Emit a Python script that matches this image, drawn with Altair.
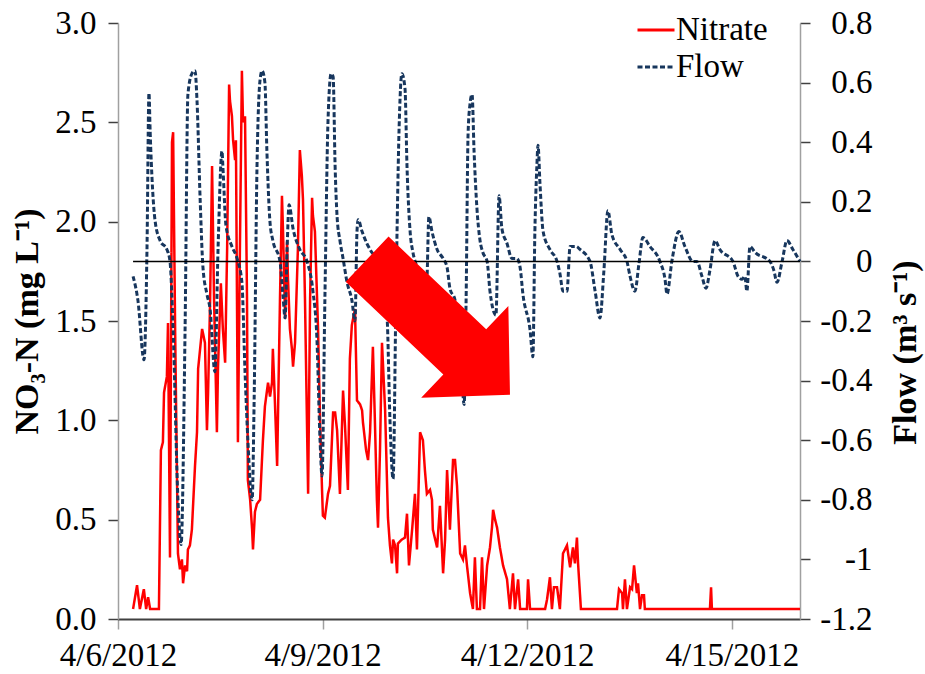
import altair as alt
import pandas as pd

# ---------------- data ----------------
nitrate_hours = [
    5.3, 6.7, 7.7, 9.1, 9.9, 10.6, 11.3, 14.4, 15.1, 15.8,
    16.2, 17.2, 17.6, 18.3, 19.0, 19.4, 20.1, 21.1, 21.8, 22.5,
    22.9, 23.6, 24.3, 24.6, 25.3, 26.0, 27.1, 27.8, 28.2, 28.9,
    29.6, 30.6, 31.3, 31.7, 32.4, 33.1, 33.8, 34.8, 35.2, 36.2,
    36.9, 37.7, 38.4, 39.1, 39.4, 40.1, 40.5, 41.2, 41.5, 42.2,
    42.9, 43.6, 44.0, 44.7, 45.4, 45.7, 46.5, 47.2, 47.5, 48.2,
    48.9, 50.0, 51.0, 51.7, 52.8, 53.5, 54.2, 54.5, 55.2, 56.0,
    57.0, 57.7, 58.1, 58.8, 59.5, 59.8, 60.5, 61.2, 61.6, 62.3,
    63.3, 64.0, 64.7, 65.1, 65.8, 66.9, 67.6, 68.3, 68.6, 69.3,
    70.4, 71.1, 71.8, 72.1, 72.8, 73.9, 74.6, 75.7, 76.4, 77.1,
    78.1, 79.2, 79.9, 80.9, 81.6, 82.3, 83.4, 84.1, 85.2, 85.9,
    86.2, 87.3, 88.0, 88.7, 89.7, 90.4, 91.1, 91.5, 92.2, 92.9,
    94.0, 95.0, 95.7, 96.4, 96.8, 97.5, 98.2, 98.5, 99.9, 101.0,
    101.7, 102.4, 103.5, 104.5, 105.2, 106.3, 107.3, 108.0, 108.7, 109.8,
    110.5, 110.8, 112.3, 113.3, 114.4, 115.1, 115.8, 116.8, 117.9, 118.6,
    119.3, 120.4, 121.4, 122.1, 122.8, 123.9, 124.9, 125.6, 126.3, 127.4,
    128.1, 128.8, 129.9, 130.9, 131.6, 132.0, 132.7, 133.4, 134.4, 135.5,
    136.9, 137.9, 139.0, 139.7, 140.8, 141.5, 143.9, 144.3, 145.0, 150.3,
    151.0, 152.0, 152.7, 153.4, 154.5, 155.5, 156.6, 158.0, 159.1, 160.1,
    160.8, 161.5, 161.9, 162.9, 175.6, 176.3, 177.4, 177.7, 178.4, 179.1,
    180.2, 180.9, 181.6, 182.6, 183.0, 183.7, 184.4, 185.1, 185.4, 208.3,
    208.7, 209.0, 240.0,
]
nitrate_values = [
    0.05, 0.17, 0.05, 0.15, 0.05, 0.11, 0.05, 0.05, 0.85, 0.89,
    1.14, 1.22, 1.49, 0.31, 2.40, 2.45, 1.46, 0.33, 0.25, 0.30,
    0.18, 0.27, 0.24, 0.35, 0.37, 0.45, 0.77, 0.94, 1.26, 1.36,
    1.46, 1.39, 0.95, 1.14, 1.59, 2.28, 1.61, 0.94, 1.27, 1.69,
    1.46, 1.29, 1.86, 2.69, 2.61, 2.53, 2.41, 2.31, 2.41, 0.89,
    1.86, 2.76, 2.50, 2.53, 1.61, 0.70, 0.60, 0.45, 0.35, 0.54,
    0.58, 0.60, 0.90, 1.07, 1.19, 1.12, 1.19, 1.36, 1.10, 0.77,
    1.61, 2.13, 1.94, 1.51, 1.90, 1.72, 1.46, 1.36, 1.27, 1.39,
    1.86, 2.36, 2.23, 2.11, 1.61, 0.63, 1.61, 2.12, 2.03, 1.95,
    1.46, 1.00, 0.65, 0.52, 0.51, 0.63, 0.67, 1.04, 1.04, 0.95,
    0.63, 1.15, 0.97, 0.65, 1.31, 1.48, 1.56, 1.10, 1.08, 1.05,
    0.99, 0.85, 0.80, 0.94, 1.37, 1.00, 0.60, 0.46, 0.85, 1.39,
    1.05, 0.51, 0.37, 0.28, 0.40, 0.37, 0.23, 0.38, 0.40, 0.41,
    0.53, 0.27, 0.45, 0.63, 0.35, 0.94, 0.90, 0.75, 0.63, 0.65,
    0.60, 0.45, 0.36, 0.57, 0.23, 0.40, 0.75, 0.45, 0.80, 0.80,
    0.67, 0.33, 0.30, 0.37, 0.27, 0.13, 0.05, 0.31, 0.05, 0.05,
    0.31, 0.05, 0.27, 0.36, 0.46, 0.55, 0.50, 0.46, 0.36, 0.27,
    0.20, 0.05, 0.23, 0.05, 0.20, 0.05, 0.05, 0.20, 0.05, 0.05,
    0.10, 0.21, 0.05, 0.16, 0.16, 0.05, 0.33, 0.37, 0.26, 0.36,
    0.28, 0.41, 0.28, 0.05, 0.05, 0.15, 0.13, 0.05, 0.20, 0.05,
    0.16, 0.15, 0.27, 0.13, 0.18, 0.05, 0.12, 0.12, 0.05, 0.05,
    0.16, 0.05, 0.05,
]

flow_hours = [
    5.3, 7.0, 9.15, 10.2, 10.9, 11.3, 13.0, 14.8, 17.2, 18.3,
    19.4, 21.1, 22.2, 23.6, 24.6, 26.0, 27.1, 27.8, 28.9, 29.9,
    31.3, 32.4, 34.1, 35.2, 36.6, 36.9, 38.0, 40.1, 41.9, 43.6,
    44.7, 45.7, 47.2, 47.9, 48.9, 50.0, 50.7, 51.7, 52.4, 53.5,
    54.5, 57.0, 58.1, 58.8, 59.5, 60.2, 61.6, 64.0, 66.5, 68.6,
    70.0, 71.1, 71.8, 72.8, 73.9, 75.0, 75.7, 76.4, 77.1, 78.1,
    79.2, 80.6, 82.3, 83.4, 84.1, 84.5, 85.9, 87.6, 88.7, 92.2,
    94.7, 95.7, 96.8, 97.8, 98.9, 99.9, 101.0, 101.7, 102.8, 103.8,
    105.2, 106.6, 108.0, 108.7, 109.4, 110.5, 112.3, 114.4, 115.8, 116.8,
    118.6, 120.4, 121.8, 122.5, 123.2, 123.9, 124.6, 125.3, 126.3, 127.4,
    128.4, 129.9, 130.9, 133.0, 134.1, 135.1, 136.9, 138.6, 140.4, 141.5,
    142.5, 145.0, 146.0, 146.7, 147.4, 147.8, 148.5, 149.6, 152.0, 154.5,
    155.5, 156.6, 158.0, 159.1, 161.2, 162.6, 166.1, 167.9, 169.6, 171.0,
    172.4, 173.8, 176.7, 179.1, 180.2, 181.9, 183.3, 184.7, 187.2, 190.7,
    192.5, 193.2, 194.9, 197.4, 199.5, 202.3, 203.7, 205.5, 206.9, 208.3,
    210.1, 211.8, 216.4, 218.2, 219.6, 220.6, 221.3, 222.4, 224.2, 229.4,
    230.8, 231.9, 233.7, 235.4, 237.5, 240.0,
]
flow_values = [
    -0.05, -0.13, -0.33, 0.04, 0.565, 0.44, 0.14, 0.07, 0.04, 0.0,
    -0.23, -0.80, -0.95, -0.23, 0.56, 0.63, 0.64, 0.54, 0.21, -0.02,
    -0.11, -0.16, -0.37, 0.04, 0.37, 0.32, 0.12, 0.05, 0.01, -0.07,
    -0.37, -0.60, -0.80, -0.47, 0.31, 0.61, 0.64, 0.60, 0.37, 0.13,
    0.07, 0.0, -0.12, -0.19, 0.04, 0.19, 0.11, 0.04, 0.0, -0.10,
    -0.26, -0.60, -0.72, -0.13, 0.47, 0.63, 0.62, 0.32, 0.15, 0.07,
    0.01, -0.07, -0.13, -0.20, 0.10, 0.14, 0.10, 0.06, 0.04, -0.02,
    -0.19, -0.53, -0.73, -0.13, 0.44, 0.63, 0.58, 0.32, 0.10, 0.03,
    -0.02, -0.08, -0.13, -0.07, 0.15, 0.10, 0.04, 0.01, -0.02, -0.09,
    -0.13, -0.26, -0.48, -0.13, 0.43, 0.53, 0.56, 0.37, 0.18, 0.07,
    0.03, 0.0, -0.10, -0.18, 0.22, 0.11, 0.06, 0.01, 0.01, -0.02,
    -0.11, -0.23, -0.32, 0.10, 0.32, 0.39, 0.26, 0.10, 0.04, 0.0,
    -0.04, -0.10, -0.10, 0.05, 0.05, 0.04, 0.0, -0.10, -0.19, -0.03,
    0.17, 0.09, 0.04, 0.0, -0.05, -0.10, -0.01, 0.08, 0.05, 0.0,
    -0.06, -0.11, 0.0, 0.10, 0.05, 0.0, 0.0, -0.05, -0.09, -0.03,
    0.07, 0.04, 0.0, -0.05, -0.06, -0.05, -0.10, 0.05, 0.03, 0.0,
    -0.03, -0.07, 0.0, 0.07, 0.04, 0.0,
]

zero_line_hours = [5.3, 240.0]          # black reference line at Flow = 0
arrow_hour = [112.8]                    # centre of the red arrow annotation
arrow_flow = [-0.22]

series_names = ["Nitrate", "Flow"]
series_colors = ["#ff0000", "#17365d"]
nitrate_ticks = [0.0, 0.5, 1.0, 1.5, 2.0, 2.5, 3.0]
flow_ticks = [-1.2, -1.0, -0.8, -0.6, -0.4, -0.2, 0.0, 0.2, 0.4, 0.6, 0.8]
date_ticks = [6, 9, 12, 15]

assert len(nitrate_hours) == len(nitrate_values)
assert len(flow_hours) == len(flow_values)

# ---------------- build tables ----------------
start = pd.Timestamp("2012-04-06 00:00:00")


def stamps(hours):
    return [(start + pd.Timedelta(hours=h)).strftime("%Y-%m-%dT%H:%M:%S") for h in hours]


nit_df = pd.DataFrame({"time": stamps(nitrate_hours), "value": nitrate_values, "series": "Nitrate"})
flow_df = pd.DataFrame({"time": stamps(flow_hours), "value": flow_values, "series": "Flow"})
zero_df = pd.DataFrame({"time": stamps(zero_line_hours[:1]), "time2": stamps(zero_line_hours[1:]), "value": [0.0]})
arrow_df = pd.DataFrame({"time": stamps(arrow_hour), "value": arrow_flow})

FONT = "Liberation Serif"

x_enc = alt.X(
    "time:T",
    title=None,
    scale=alt.Scale(domain=[alt.DateTime(year=2012, month=4, date=6),
                            alt.DateTime(year=2012, month=4, date=16)]),
    axis=alt.Axis(
        values=[alt.DateTime(year=2012, month=4, date=d) for d in date_ticks],
        format="%-m/%-d/%Y", formatType="time",
        labelFont=FONT, labelFontSize=33, labelColor="black",
        labelPadding=10, labelFlush=False, labelOverlap=False, labelBound=False,
        tickSize=10, tickColor="#a0a0a0", tickWidth=1.5,
        domainColor="#404040", domainWidth=2, grid=False,
    ),
)

nit_scale = alt.Scale(domain=[0, 3.0], nice=False, zero=False)
nit_axis = alt.Axis(
    title="NO₃-N (mg L⁻¹)", orient="left", values=nitrate_ticks, format=".1f",
    labelFont=FONT, labelFontSize=33, labelColor="black", labelPadding=12,
    tickSize=10, tickColor="#404040", tickWidth=1.5,
    domainColor="#a0a0a0", domainWidth=1.5, grid=False,
    titleFont=FONT, titleFontSize=34, titleFontWeight="bold", titleColor="black",
    titleX=-91, titleY=298, titleAngle=270, titleBaseline="middle", titleAlign="center",
)

flow_scale = alt.Scale(domain=[-1.2, 0.8], nice=False, zero=False)
flow_axis = alt.Axis(
    title="Flow (m³ s⁻¹)", orient="right", values=flow_ticks,
    labelExpr="'' + datum.value",
    labelFont=FONT, labelFontSize=33, labelColor="black",
    labelAlign="right", labelPadding=62,
    tickSize=10, tickColor="#404040", tickWidth=1.5,
    domainColor="#a0a0a0", domainWidth=1.5, grid=False,
    titleFont=FONT, titleFontSize=34, titleFontWeight="bold", titleColor="black",
    titleX=105, titleY=329, titleAngle=270, titleBaseline="middle", titleAlign="center",
)

legend = alt.Legend(
    title=None, orient="none", legendX=518, legendY=-13, padding=0,
    symbolType="stroke", symbolSize=1369, symbolStrokeWidth=2.8,
    labelFont=FONT, labelFontSize=33, labelColor="black", labelOffset=0,
    rowPadding=-2,
)
color_enc = alt.Color("series:N", scale=alt.Scale(domain=series_names, range=series_colors), legend=legend)
dash_enc = alt.StrokeDash("series:N", scale=alt.Scale(domain=series_names, range=[[1, 0], [5, 2.5]]), legend=legend)

nit_line = alt.Chart(nit_df).mark_line(strokeWidth=2.5).encode(
    x=x_enc,
    y=alt.Y("value:Q", scale=nit_scale, axis=nit_axis),
    color=color_enc,
    strokeDash=dash_enc,
)

flow_y = alt.Y("value:Q", scale=flow_scale, axis=flow_axis)

flow_line = alt.Chart(flow_df).mark_line(strokeWidth=3, interpolate="monotone").encode(
    x=x_enc, y=flow_y, color=color_enc, strokeDash=dash_enc,
)

zero_rule = alt.Chart(zero_df).mark_rule(color="black", strokeWidth=1.5).encode(
    x="time:T", x2="time2:T", y=flow_y,
)

arrow_path = "M-1,-0.316L0.367,-0.316L0.367,-0.643L1,0L0.367,0.643L0.367,0.316L-1,0.316Z"
arrow = alt.Chart(arrow_df).mark_point(
    shape=arrow_path, filled=True, color="#ff0000", opacity=1,
    size=38800, angle=43.5, strokeWidth=0,
).encode(x="time:T", y=flow_y)

chart = alt.layer(
    nit_line,
    alt.layer(flow_line, zero_rule, arrow),
).resolve_scale(y="independent").properties(
    width=682, height=596,
    autosize=alt.AutoSizeParams(type="none"),
    padding={"left": 118, "top": 23, "right": 125, "bottom": 55},
    background="white",
).configure_view(stroke=None)

chart.save("out.html", embed_options={"renderer": "svg", "actions": False})
